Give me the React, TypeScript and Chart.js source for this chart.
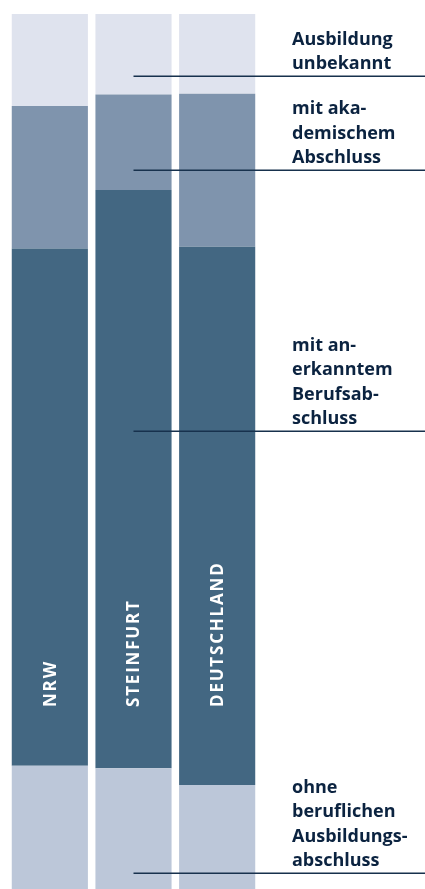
import React, { useEffect, useRef } from "react";
import { Chart, registerables } from "chart.js";

Chart.register(...registerables);

const categories = ["NRW", "STEINFURT", "DEUTSCHLAND"];
const ohneAbschluss = [14.1, 13.8, 11.9];
const anerkannterAbschluss = [59.1, 66.1, 61.5];
const akademischerAbschluss = [16.3, 10.9, 17.5];
const ausbildungUnbekannt = [10.5, 9.2, 9.1];

const seriesLabels = [
  ["Ausbildung", "unbekannt"],
  ["mit aka-", "demischem", "Abschluss"],
  ["mit an-", "erkanntem", "Berufsab-", "schluss"],
  ["ohne", "beruflichen", "Ausbildungs-", "abschluss"],
];
// where each label's rule sits, on the value axis (percent)
const labelRuleValues = [92.9, 82.2, 52.3, 1.8];
const barLabelStartValue = 20.8;

const colors = {
  ohne: "#bcc7d9",
  anerkannt: "#436782",
  akademisch: "#7f94ad",
  unbekannt: "#dfe3ee",
  text: "#0b2340",
  rule: "#17314d",
};

const labelPlugin = {
  id: "sideLabels",
  afterDatasetsDraw(chart: any) {
    const { ctx } = chart;
    const x = chart.scales.x;
    const y = chart.scales.y;
    ctx.save();
    // bar labels
    ctx.fillStyle = "#ffffff";
    ctx.font = "700 17px 'Open Sans'";
    (ctx as any).letterSpacing = "1.8px";
    ctx.textAlign = "left";
    ctx.textBaseline = "middle";
    const y0 = y.getPixelForValue(barLabelStartValue);
    categories.forEach((c, i) => {
      const cx = x.getPixelForValue(i);
      ctx.save();
      ctx.translate(cx + 1, y0);
      ctx.rotate(-Math.PI / 2);
      ctx.fillText(c, 0, 0);
      ctx.restore();
    });
    (ctx as any).letterSpacing = "0px";
    // side labels and rules
    const ruleStart = x.getPixelForValue(1);
    const w = chart.width;
    ctx.strokeStyle = colors.rule;
    ctx.lineWidth = 1.5;
    ctx.fillStyle = colors.text;
    ctx.font = "700 18px 'Open Sans'";
    ctx.textBaseline = "alphabetic";
    seriesLabels.forEach((lines, i) => {
      const ly = Math.round(y.getPixelForValue(labelRuleValues[i])) + 0.25;
      ctx.beginPath();
      ctx.moveTo(ruleStart, ly);
      ctx.lineTo(w, ly);
      ctx.stroke();
      const n = lines.length;
      lines.forEach((t, j) => {
        ctx.fillText(t, 292, ly - 7 - (n - 1 - j) * 24.5);
      });
    });
    ctx.restore();
  },
};

export default function App() {
  const ref = useRef<HTMLCanvasElement | null>(null);
  useEffect(() => {
    if (!ref.current) return;
    const chart = new Chart(ref.current, {
      type: "bar",
      data: {
        labels: categories,
        datasets: [
          { label: "ohne beruflichen Ausbildungsabschluss", data: ohneAbschluss, backgroundColor: colors.ohne },
          { label: "mit anerkanntem Berufsabschluss", data: anerkannterAbschluss, backgroundColor: colors.anerkannt },
          { label: "mit akademischem Abschluss", data: akademischerAbschluss, backgroundColor: colors.akademisch },
          { label: "Ausbildung unbekannt", data: ausbildungUnbekannt, backgroundColor: colors.unbekannt },
        ],
      },
      options: {
        animation: false,
        responsive: false,
        maintainAspectRatio: false,
        layout: { padding: { left: 8, right: 166, top: 14, bottom: 0 } },
        datasets: { bar: { categoryPercentage: 1, barPercentage: 0.91, borderWidth: 0 } },
        scales: {
          x: { stacked: true, display: false, grid: { display: false } },
          y: { stacked: true, display: false, min: 0, max: 100, grid: { display: false } },
        },
        plugins: { legend: { display: false }, tooltip: { enabled: false } },
      },
      plugins: [labelPlugin],
    });
    return () => chart.destroy();
  }, []);
  return (
    <div style={{ position: "absolute", left: 0, top: 0, width: 425, height: 889, background: "#fff" }}>
      <canvas ref={ref} width={425} height={889} style={{ display: "block", width: 425, height: 889 }} />
    </div>
  );
}
